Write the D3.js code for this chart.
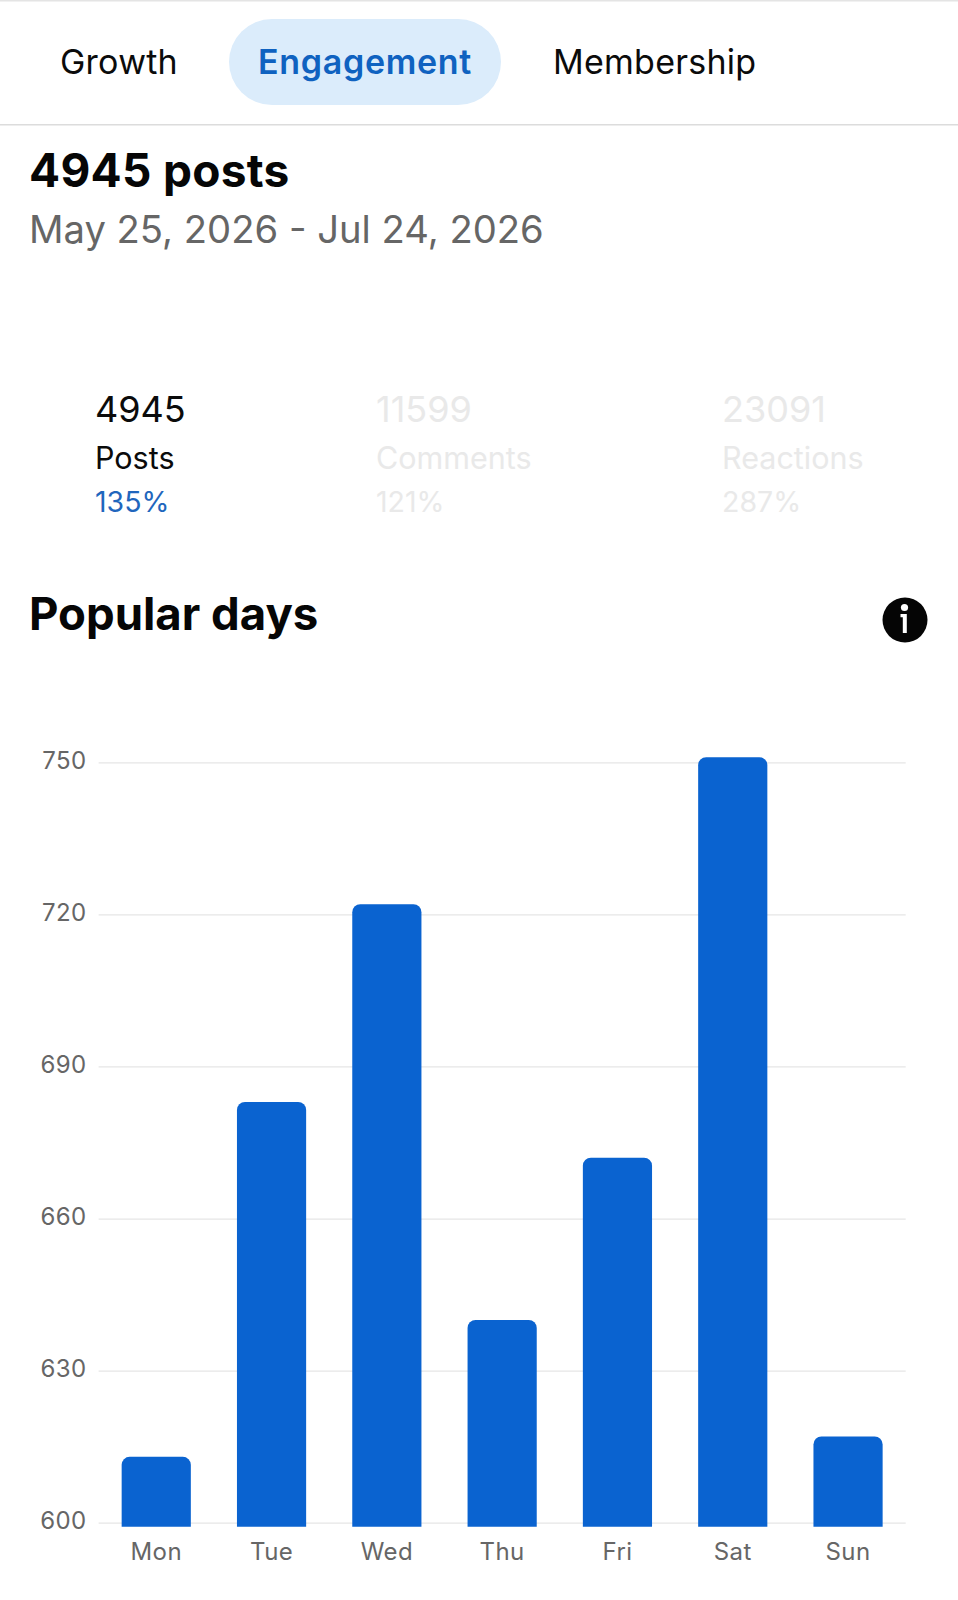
<!DOCTYPE html>
<html>
<head>
<meta charset="utf-8">
<script src="https://d3js.org/d3.v7.min.js"></script>
<style>
  html, body { margin: 0; padding: 0; background: #fff; }
  svg { display: block; }
  text { font-family: Inter, "Noto Sans", sans-serif; }
  .tick text { font-size: 24px; fill: #666; letter-spacing: 0.4px; }
</style>
</head>
<body>
<svg id="chart" width="958" height="1600"></svg>
<script>
// chart values
const days = ["Mon", "Tue", "Wed", "Thu", "Fri", "Sat", "Sun"];
const posts = [613, 683, 722, 640, 672, 751, 617];
const yTicks = [600, 630, 660, 690, 720, 750];

// header values
const tabs = ["Growth", "Engagement", "Membership"];
const tabX = [60, 258, 553];
const statValues = ["4945", "11599", "23091"];
const statNames = ["Posts", "Comments", "Reactions"];
const statChanges = ["135%", "121%", "287%"];
const statX = [95, 376, 722];

const blue = "#0a63d0";

const svg = d3.select("#chart");

// page furniture
svg.append("rect").attr("x", 0).attr("y", 0).attr("width", 958).attr("height", 1.5).attr("fill", "#e4e4e4");
svg.append("rect").attr("x", 0).attr("y", 124).attr("width", 958).attr("height", 1.5).attr("fill", "#dcdcdc");
svg.append("rect").attr("x", 229).attr("y", 19).attr("width", 272).attr("height", 86).attr("rx", 43).attr("fill", "#dbecfb");

tabs.forEach(function(tab, i) {
  svg.append("text")
    .attr("x", tabX[i]).attr("y", 74)
    .attr("font-size", 34)
    .attr("font-weight", i === 1 ? 600 : 400)
    .attr("letter-spacing", i === 1 ? 0.7 : 0.25)
    .attr("fill", i === 1 ? "#0f62c0" : "#0b0b0b")
    .text(tab);
});

svg.append("text").attr("x", 29).attr("y", 186.5).attr("font-size", 46).attr("font-weight", 700)
  .attr("letter-spacing", 0.3).attr("fill", "#060606").text("4945 posts");
svg.append("text").attr("x", 29).attr("y", 243).attr("font-size", 38.2)
  .attr("fill", "#666").text("May 25, 2026 - Jul 24, 2026");

// stat blocks, only the first one is active
statValues.forEach(function(v, i) {
  const on = i === 0;
  svg.append("text").attr("x", statX[i]).attr("y", 422).attr("font-size", 36)
    .attr("fill", on ? "#0b0b0b" : "#e9e9e9").text(v);
  svg.append("text").attr("x", statX[i]).attr("y", 469).attr("font-size", 30.5)
    .attr("fill", on ? "#0b0b0b" : "#e9e9e9").text(statNames[i]);
  svg.append("text").attr("x", statX[i]).attr("y", 512).attr("font-size", 28.5)
    .attr("fill", on ? "#1f66bd" : "#e9e9e9").text(statChanges[i]);
});

svg.append("text").attr("x", 29).attr("y", 630).attr("font-size", 45.5).attr("font-weight", 700)
  .attr("fill", "#060606").text("Popular days");

// info icon
const info = svg.append("g").attr("transform", "translate(905,620)");
info.append("circle").attr("r", 22.5).attr("fill", "#050505");
info.append("circle").attr("cx", -0.5).attr("cy", -12.5).attr("r", 3.6).attr("fill", "#fff");
info.append("path").attr("d", "M-4.5,-6H1.8V13H-2.2V-2.8H-4.5Z").attr("fill", "#fff");

// bar chart
const x = d3.scaleBand().domain(days).range([98.6, 905.7]).paddingInner(0.4).paddingOuter(0.2);
const y = d3.scaleLinear().domain([600, 750]).range([1522.7, 762.3]);

const yAxis = d3.axisLeft(y).tickValues(yTicks).tickSize(-(905.7 - 98.6)).tickPadding(12);
const gy = svg.append("g").attr("transform", "translate(98.6,0)").call(yAxis);
gy.select(".domain").remove();
gy.selectAll(".tick line").attr("stroke", "#e6e6e6").attr("stroke-width", 1.2);
gy.selectAll(".tick text").attr("dy", "0.25em");

// bars run a little past the 600 line, like in the app
const barBottom = y(600) + 4;
const radius = 8;

function barPath(d, i) {
  const p = d3.path();
  const left = x(days[i]), right = left + x.bandwidth(), top = y(d);
  p.moveTo(left, barBottom);
  p.lineTo(left, top + radius);
  p.arcTo(left, top, left + radius, top, radius);
  p.lineTo(right - radius, top);
  p.arcTo(right, top, right, top + radius, radius);
  p.lineTo(right, barBottom);
  p.closePath();
  return p.toString();
}

svg.selectAll(".bar")
  .data(posts)
  .enter().append("path")
  .attr("class", "bar")
  .attr("d", barPath)
  .attr("fill", blue);

const xAxis = d3.axisBottom(x).tickSize(0).tickPadding(16);
const gx = svg.append("g").attr("transform", `translate(0,${barBottom})`).call(xAxis);
gx.select(".domain").remove();
</script>
</body>
</html>
